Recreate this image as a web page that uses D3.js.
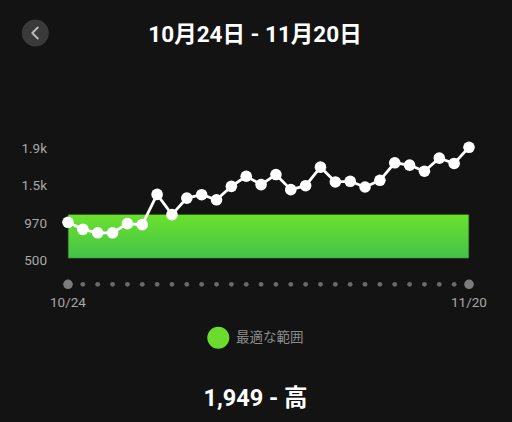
<!DOCTYPE html>
<html>
<head>
<meta charset="utf-8">
<script src="https://cdn.jsdelivr.net/npm/d3@7"></script>
<style>
  html, body { margin: 0; padding: 0; background: #131313; }
  svg { display: block; }
</style>
</head>
<body>
<div id="chart"></div>
<script>
var svgWidth = 512;
var svgHeight = 422;

// daily values 10/24 .. 11/20
var days = ["10/24","10/25","10/26","10/27","10/28","10/29","10/30","10/31",
            "11/01","11/02","11/03","11/04","11/05","11/06","11/07","11/08",
            "11/09","11/10","11/11","11/12","11/13","11/14","11/15","11/16",
            "11/17","11/18","11/19","11/20"];
var values = [970, 878, 833, 833, 952, 939, 1334, 1070, 1286, 1330, 1264, 1439, 1571, 1462,
              1593, 1396, 1448, 1690, 1497, 1505, 1431, 1518, 1747, 1716, 1637, 1808, 1738, 1949];
var optimalRange = [500, 1075];
var yTickLabels = ["500", "970", "1.5k", "1.9k"];
var edgeLabels = ["10/24", "11/20"];

var titleText = "10月24日 - 11月20日";
var legendText = "最適な範囲";
var summaryText = "1,949 - 高";

var font = "Roboto, 'Noto Sans CJK JP', sans-serif";
var plot = { left: 68, right: 469, top: 147.3, bottom: 258.3 };

var svg = d3.select("#chart")
            .append("svg")
            .attr("width", svgWidth)
            .attr("height", svgHeight);

svg.append("rect")
   .attr("width", svgWidth)
   .attr("height", svgHeight)
   .attr("fill", "#131313");

var defs = svg.append("defs");
var grad = defs.append("linearGradient")
               .attr("id", "bandGrad")
               .attr("x1", 0).attr("y1", 0)
               .attr("x2", 0).attr("y2", 1);
grad.append("stop").attr("offset", "0%").attr("stop-color", "#6be22c");
grad.append("stop").attr("offset", "100%").attr("stop-color", "#44c24a");

var xScale = d3.scalePoint()
               .domain(days)
               .range([plot.left, plot.right]);

var yScale = d3.scaleLinear()
               .domain([500, 1949])
               .range([plot.bottom, plot.top]);

// y labels sit evenly spaced on the left
var yLabelScale = d3.scalePoint()
                    .domain(yTickLabels)
                    .range([260, 148.5]);

// back button
var back = svg.append("g").attr("transform", "translate(35.3, 33)");
back.append("circle").attr("r", 13.5).attr("fill", "#3a3a3a");
back.append("path")
    .attr("d", "M2.5,-5.5 L-3,0 L2.5,5.5")
    .attr("fill", "none")
    .attr("stroke", "#bdbdbd")
    .attr("stroke-width", 1.8)
    .attr("stroke-linecap", "round")
    .attr("stroke-linejoin", "round");

// title
svg.append("text")
   .attr("x", 255)
   .attr("y", 34)
   .attr("dy", "0.35em")
   .attr("text-anchor", "middle")
   .attr("font-family", font)
   .attr("font-weight", "bold")
   .attr("font-size", "22.5px")
   .attr("fill", "#ffffff")
   .text(titleText);

// y axis labels
svg.append("g")
   .selectAll("text")
   .data(yTickLabels)
   .enter()
   .append("text")
   .attr("x", 47)
   .attr("y", d => yLabelScale(d))
   .attr("dy", "0.35em")
   .attr("text-anchor", "end")
   .attr("font-family", font)
   .attr("font-size", "13.5px")
   .attr("fill", "#a8a8a8")
   .text(d => d);

// optimal band
svg.append("rect")
   .attr("x", xScale(days[0]))
   .attr("y", yScale(optimalRange[1]))
   .attr("width", xScale(days[days.length - 1]) - xScale(days[0]))
   .attr("height", yScale(optimalRange[0]) - yScale(optimalRange[1]))
   .attr("fill", "url(#bandGrad)")
   .attr("stroke", "#1e3a14")
   .attr("stroke-width", 0.8);

// line + points
var line = d3.line()
             .x((d, i) => xScale(days[i]))
             .y(d => yScale(d));

svg.append("path")
   .datum(values)
   .attr("d", line)
   .attr("fill", "none")
   .attr("stroke", "#ffffff")
   .attr("stroke-width", 2.8);

svg.append("g")
   .selectAll("circle")
   .data(values)
   .enter()
   .append("circle")
   .attr("cx", (d, i) => xScale(days[i]))
   .attr("cy", d => yScale(d))
   .attr("r", 5.8)
   .attr("fill", "#ffffff");

// x axis dots
svg.append("g")
   .selectAll("circle")
   .data(days)
   .enter()
   .append("circle")
   .attr("cx", d => xScale(d))
   .attr("cy", 284.3)
   .attr("r", (d, i) => (i === 0 || i === days.length - 1) ? 4.8 : 2.4)
   .attr("fill", (d, i) => (i === 0 || i === days.length - 1) ? "#7c7c7c" : "#6a6a6a");

svg.append("g")
   .selectAll("text")
   .data(edgeLabels)
   .enter()
   .append("text")
   .attr("x", d => xScale(d))
   .attr("y", 302)
   .attr("dy", "0.35em")
   .attr("text-anchor", "middle")
   .attr("font-family", font)
   .attr("font-size", "13.5px")
   .attr("fill", "#a8a8a8")
   .text(d => d);

// legend
svg.append("circle")
   .attr("cx", 218.3)
   .attr("cy", 337.7)
   .attr("r", 11)
   .attr("fill", "#6bdc2e");

svg.append("text")
   .attr("x", 236)
   .attr("y", 337.7)
   .attr("dy", "0.35em")
   .attr("font-family", font)
   .attr("font-size", "13.5px")
   .attr("fill", "#8c8c8c")
   .text(legendText);

// summary
svg.append("text")
   .attr("x", 255.5)
   .attr("y", 398)
   .attr("dy", "0.35em")
   .attr("text-anchor", "middle")
   .attr("font-family", font)
   .attr("font-weight", "bold")
   .attr("font-size", "23.5px")
   .attr("fill", "#ffffff")
   .text(summaryText);
</script>
</body>
</html>
